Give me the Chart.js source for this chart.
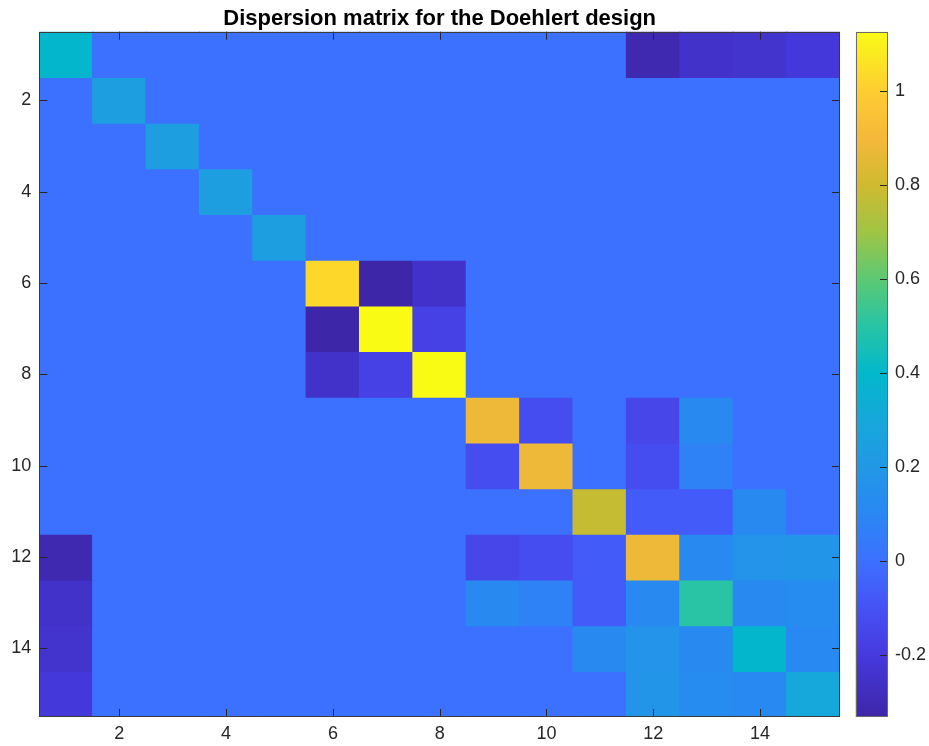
<!DOCTYPE html>
<html>
<head>
<meta charset="utf-8">
<script src="https://cdn.jsdelivr.net/npm/chart.js@4/dist/chart.umd.min.js"></script>
<style>
html,body{margin:0;padding:0;background:#fff;}
#wrap{position:relative;width:929px;height:746px;overflow:hidden;}
#wrap canvas{position:absolute;left:0;top:0;}
</style>
</head>
<body>
<div id="wrap">
<canvas id="main" width="929" height="746"></canvas>
<canvas id="cbar" width="929" height="746"></canvas>
</div>
<script>
// ---------------- data ----------------
const chartTitle = 'Dispersion matrix for the Doehlert design';
const axisTicks = [2, 4, 6, 8, 10, 12, 14];
const colorbarTicks = [-0.2, 0, 0.2, 0.4, 0.6, 0.8, 1];
const indices = [1,2,3,4,5,6,7,8,9,10,11,12,13,14,15];

const row01 = [0.39, 0, 0, 0, 0, 0, 0, 0, 0, 0, 0, -0.31, -0.25, -0.24, -0.21];
const row02 = [0, 0.24, 0, 0, 0, 0, 0, 0, 0, 0, 0, 0, 0, 0, 0];
const row03 = [0, 0, 0.24, 0, 0, 0, 0, 0, 0, 0, 0, 0, 0, 0, 0];
const row04 = [0, 0, 0, 0.24, 0, 0, 0, 0, 0, 0, 0, 0, 0, 0, 0];
const row05 = [0, 0, 0, 0, 0.24, 0, 0, 0, 0, 0, 0, 0, 0, 0, 0];
const row06 = [0, 0, 0, 0, 0, 1.03, -0.332, -0.25, 0, 0, 0, 0, 0, 0, 0];
const row07 = [0, 0, 0, 0, 0, -0.332, 1.1255, -0.17, 0, 0, 0, 0, 0, 0, 0];
const row08 = [0, 0, 0, 0, 0, -0.25, -0.17, 1.1255, 0, 0, 0, 0, 0, 0, 0];
const row09 = [0, 0, 0, 0, 0, 0, 0, 0, 0.88, -0.12, 0, -0.15, 0.12, 0, 0];
const row10 = [0, 0, 0, 0, 0, 0, 0, 0, -0.12, 0.88, 0, -0.12, 0.08, 0, 0];
const row11 = [0, 0, 0, 0, 0, 0, 0, 0, 0, 0, 0.78, -0.07, -0.07, 0.12, 0];
const row12 = [-0.31, 0, 0, 0, 0, 0, 0, 0, -0.15, -0.12, -0.07, 0.88, 0.12, 0.17, 0.18];
const row13 = [-0.25, 0, 0, 0, 0, 0, 0, 0, 0.12, 0.08, -0.07, 0.12, 0.50, 0.12, 0.13];
const row14 = [-0.24, 0, 0, 0, 0, 0, 0, 0, 0, 0, 0.12, 0.17, 0.12, 0.39, 0.11];
const row15 = [-0.21, 0, 0, 0, 0, 0, 0, 0, 0, 0, 0, 0.18, 0.13, 0.11, 0.30];

const matrix = [row01,row02,row03,row04,row05,row06,row07,row08,row09,row10,row11,row12,row13,row14,row15];

// ---------------- colormap (parula-like) ----------------
const cMin = Math.min(...matrix.flat());
const cMax = Math.max(...matrix.flat());
const parula = [
  [0.0000, 62, 38, 168],
  [0.0906, 70, 58, 222],
  [0.1592, 70, 82, 245],
  [0.2278, 60, 112, 255],
  [0.2964, 42, 135, 243],
  [0.3650, 33, 152, 230],
  [0.4336, 22, 168, 218],
  [0.5022, 2, 184, 203],
  [0.5708, 40, 196, 165],
  [0.6395, 92, 201, 115],
  [0.7081, 160, 196, 68],
  [0.7767, 208, 186, 48],
  [0.8453, 245, 184, 58],
  [0.9139, 254, 205, 50],
  [1.0000, 249, 251, 21]
];
function cmap(v) {
  let t = (v - cMin) / (cMax - cMin);
  t = Math.max(0, Math.min(1, t));
  for (let i = 1; i < parula.length; i++) {
    if (t <= parula[i][0]) {
      const a = parula[i-1], b = parula[i];
      const f = (t - a[0]) / (b[0] - a[0]);
      const c = [1,2,3].map(k => Math.round(a[k] + (b[k]-a[k]) * f));
      return `rgb(${c[0]},${c[1]},${c[2]})`;
    }
  }
  const l = parula[parula.length-1];
  return `rgb(${l[1]},${l[2]},${l[3]})`;
}

Chart.defaults.font.family = '"Liberation Sans", Arial, Helvetica, sans-serif';
Chart.defaults.color = '#262626';

// ---------------- main heatmap ----------------
const datasets = matrix.map((row, r) => ({
  label: 'row ' + (r + 1),
  data: row.map((v, c) => ({ x: indices[c], y: [indices[r] - 0.5, indices[r] + 0.5] })),
  backgroundColor: row.map(v => cmap(v)),
  borderWidth: 0,
  inflateAmount: 0.6,
  barPercentage: 1,
  categoryPercentage: 1,
  grouped: false
}));

const boxPlugin = {
  id: 'boxTicks',
  afterDraw(chart) {
    const { ctx, chartArea: a, scales: { x, y } } = chart;
    ctx.save();
    ctx.fillStyle = '#fff';
    ctx.fillRect(a.right, a.top - 2, 20, a.bottom - a.top + 4);
    ctx.strokeStyle = '#262626';
    ctx.lineWidth = 1;
    ctx.beginPath();
    const L = 8;
    axisTicks.forEach(v => {
      const px = Math.round(x.getPixelForValue(v)) + 0.5;
      ctx.moveTo(px, a.bottom); ctx.lineTo(px, a.bottom - L);
      ctx.moveTo(px, a.top); ctx.lineTo(px, a.top + L);
      const py = Math.round(y.getPixelForValue(v)) + 0.5;
      ctx.moveTo(a.left, py); ctx.lineTo(a.left + L, py);
      ctx.moveTo(a.right, py); ctx.lineTo(a.right - L, py);
    });
    ctx.stroke();
    ctx.strokeStyle = '#3a3a3a';
    ctx.strokeRect(Math.round(a.left) + 0.5, Math.round(a.top) + 0.5,
                   Math.round(a.right) - Math.round(a.left) - 1, Math.round(a.bottom) - Math.round(a.top) - 1);
    ctx.restore();
  }
};

new Chart(document.getElementById('main'), {
  type: 'bar',
  data: { datasets },
  options: {
    responsive: false,
    animation: false,
    events: [],
    layout: { padding: { left: 0, right: 89, top: 0, bottom: 0 } },
    plugins: {
      legend: { display: false },
      tooltip: { enabled: false },
      title: {
        display: true,
        text: chartTitle,
        fullSize: false,
        color: '#000',
        font: { size: 22, weight: 'bold' },
        padding: { top: 5.3, bottom: 0 }
      }
    },
    scales: {
      x: {
        type: 'linear',
        position: 'bottom',
        offset: false,
        min: 0.5, max: 15.5,
        grid: { display: false, drawTicks: false },
        border: { display: false },
        afterBuildTicks(s) { s.ticks = axisTicks.map(v => ({ value: v })); },
        afterFit(s) { s.height = 29; },
        ticks: { font: { size: 18 }, padding: 6, maxRotation: 0, autoSkip: false, callback: v => String(v) }
      },
      y: {
        type: 'linear',
        reverse: true,
        min: 0.5, max: 15.5,
        grid: { display: false, drawTicks: false },
        border: { display: false },
        afterBuildTicks(s) { s.ticks = axisTicks.map(v => ({ value: v })); },
        afterFit(s) { s.width = 39.3; },
        ticks: { font: { size: 18 }, padding: 8, autoSkip: false, callback: v => String(v) }
      }
    }
  },
  plugins: [boxPlugin]
});

// ---------------- colorbar ----------------
const cbarPlugin = {
  id: 'cbarBox',
  afterDraw(chart) {
    const { ctx, chartArea: a, scales: { y } } = chart;
    ctx.save();
    ctx.strokeStyle = '#262626';
    ctx.lineWidth = 1;
    ctx.beginPath();
    colorbarTicks.forEach(v => {
      const py = Math.round(y.getPixelForValue(v)) + 0.5;
      ctx.moveTo(a.right, py); ctx.lineTo(a.right - 8, py);
    });
    ctx.stroke();
    ctx.strokeStyle = '#6a6a6a';
    ctx.strokeRect(Math.round(a.left) + 0.5, Math.round(a.top) + 0.5,
                   Math.round(a.right) - Math.round(a.left) - 1, Math.round(a.bottom) - Math.round(a.top) - 1);
    ctx.restore();
  }
};

new Chart(document.getElementById('cbar'), {
  type: 'bar',
  data: {
    labels: [''],
    datasets: [{
      data: [[cMin, cMax]],
      borderWidth: 0,
      barPercentage: 1,
      categoryPercentage: 1,
      backgroundColor(ctx) {
        const chart = ctx.chart;
        const ys = chart.scales.y;
        if (!chart.chartArea || !ys) return 'rgba(0,0,0,0)';
        const y0 = ys.getPixelForValue(cMin), y1 = ys.getPixelForValue(cMax);
        const g = chart.ctx.createLinearGradient(0, y0, 0, y1);
        parula.forEach(s => g.addColorStop(s[0], `rgb(${s[1]},${s[2]},${s[3]})`));
        return g;
      }
    }]
  },
  options: {
    responsive: false,
    animation: false,
    events: [],
    layout: { padding: { left: 855.7, right: 0, top: 31.7, bottom: 29 } },
    plugins: { legend: { display: false }, tooltip: { enabled: false }, title: { display: false } },
    scales: {
      x: { display: false },
      y: {
        type: 'linear',
        position: 'right',
        min: cMin, max: cMax,
        grid: { display: false, drawTicks: false },
        border: { display: false },
        afterBuildTicks(s) { s.ticks = colorbarTicks.map(v => ({ value: v })); },
        afterFit(s) { s.width = 41; },
        ticks: { font: { size: 18 }, padding: 7, autoSkip: false,
                 callback: v => String(Math.round(v * 10) / 10) }
      }
    }
  },
  plugins: [cbarPlugin]
});
</script>
</body>
</html>
